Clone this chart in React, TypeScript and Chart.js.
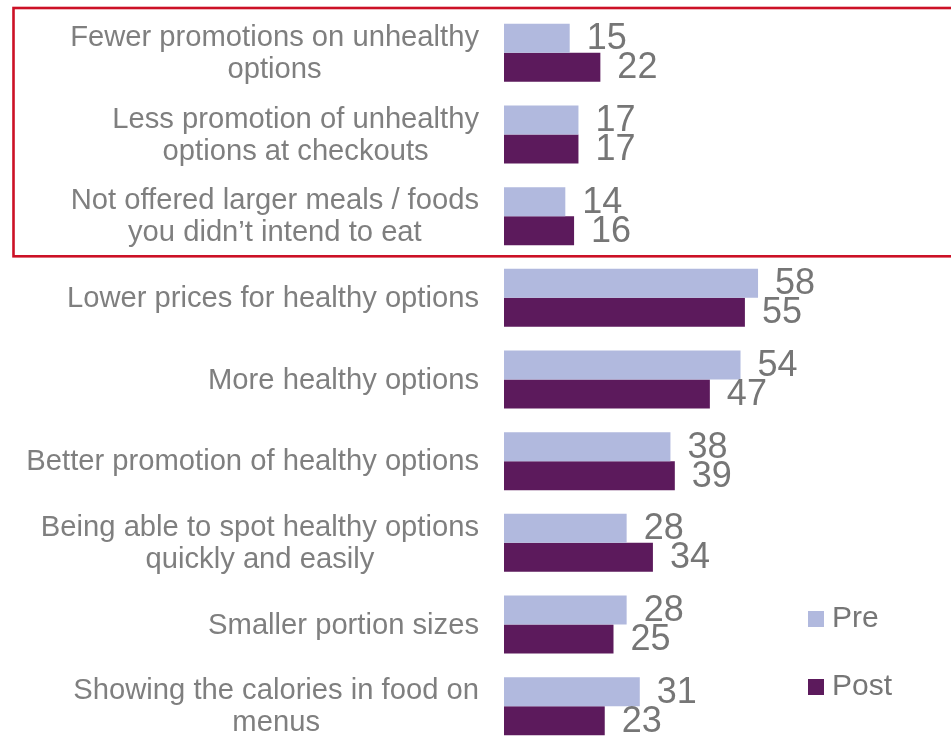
import React, { useEffect, useRef } from "react";
import { Chart, registerables } from "chart.js";

Chart.register(...registerables);

const categories: string[][] = [
  ["Fewer promotions on unhealthy", "options"],
  ["Less promotion of unhealthy", "options at checkouts"],
  ["Not offered larger meals / foods", "you didn\u2019t intend to eat"],
  ["Lower prices for healthy options"],
  ["More healthy options"],
  ["Better promotion of healthy options"],
  ["Being able to spot healthy options", "quickly and easily"],
  ["Smaller portion sizes"],
  ["Showing the calories in food on", "menus"],
];
const preValues = [15, 17, 14, 58, 54, 38, 28, 28, 31];
const postValues = [22, 17, 16, 55, 47, 39, 34, 25, 23];
const seriesNames = ["Pre", "Post"];
const seriesColors = ["#b1b9de", "#5c1a5c"];

const FONT = "'Liberation Sans', Arial, sans-serif";

const customDraw = {
  id: "customDraw",
  afterDatasetsDraw(chart: any) {
    const ctx = chart.ctx;
    const yScale = chart.scales.y;
    ctx.save();
    // value labels
    ctx.font = `36px ${FONT}`;
    ctx.fillStyle = "#767676";
    ctx.textAlign = "left";
    ctx.textBaseline = "middle";
    chart.data.datasets.forEach((ds: any, di: number) => {
      const meta = chart.getDatasetMeta(di);
      meta.data.forEach((bar: any, i: number) => {
        ctx.fillText(String(ds.data[i]), bar.x + 17, bar.y + 1);
      });
    });
    // category labels: block right-aligned, lines centered
    ctx.font = `29.2px ${FONT}`;
    ctx.fillStyle = "#7f7f7f";
    ctx.textAlign = "center";
    const rightEdge = 479;
    const lh = 32;
    (chart.data.labels as string[][]).forEach((lines, i) => {
      const cy = yScale.getPixelForValue(i);
      const widest = Math.max(...lines.map((l) => ctx.measureText(l).width));
      const cx = rightEdge - widest / 2;
      const startY = cy - ((lines.length - 1) * lh) / 2;
      lines.forEach((l, k) => {
        ctx.fillText(l, cx, startY + k * lh + 1);
      });
    });
    // legend
    ctx.font = `30px ${FONT}`;
    ctx.textAlign = "left";
    const legendY = [619, 687];
    chart.data.datasets.forEach((ds: any, di: number) => {
      ctx.fillStyle = ds.backgroundColor;
      ctx.fillRect(808, legendY[di] - 8, 16, 16);
      ctx.fillStyle = "#767676";
      ctx.fillText(ds.label, 832, legendY[di]);
    });
    // red highlight box
    ctx.strokeStyle = "#cc1126";
    ctx.lineWidth = 2.6;
    ctx.strokeRect(13.5, 8, 960, 248.3);
    ctx.restore();
  },
};

export default function App() {
  const ref = useRef<HTMLCanvasElement>(null);
  useEffect(() => {
    if (!ref.current) return;
    const chart = new Chart(ref.current, {
      type: "bar",
      data: {
        labels: categories as any,
        datasets: [
          {
            label: seriesNames[0],
            data: preValues,
            backgroundColor: seriesColors[0],
            borderWidth: 0,
          },
          {
            label: seriesNames[1],
            data: postValues,
            backgroundColor: seriesColors[1],
            borderWidth: 0,
          },
        ],
      },
      options: {
        indexAxis: "y",
        animation: false,
        responsive: false,
        maintainAspectRatio: false,
        layout: { padding: { top: 12, right: 9, bottom: 0, left: 0 } },
        datasets: {
          bar: { categoryPercentage: 0.71, barPercentage: 1 },
        },
        scales: {
          x: { display: false, min: 0, max: 100 },
          y: {
            display: true,
            grid: { display: false, drawTicks: false },
            border: { display: false },
            ticks: { display: false },
            afterFit: (scale: any) => {
              scale.width = 504;
            },
          },
        },
        plugins: {
          legend: { display: false },
          tooltip: { enabled: false },
          title: { display: false },
        },
      },
      plugins: [customDraw],
    });
    return () => chart.destroy();
  }, []);
  return (
    <div
      style={{
        position: "absolute",
        top: 0,
        left: 0,
        width: 951,
        height: 736,
        overflow: "hidden",
        background: "#fff",
      }}
    >
      <canvas ref={ref} width={951} height={747} style={{ display: "block", width: 951, height: 747 }} />
    </div>
  );
}
